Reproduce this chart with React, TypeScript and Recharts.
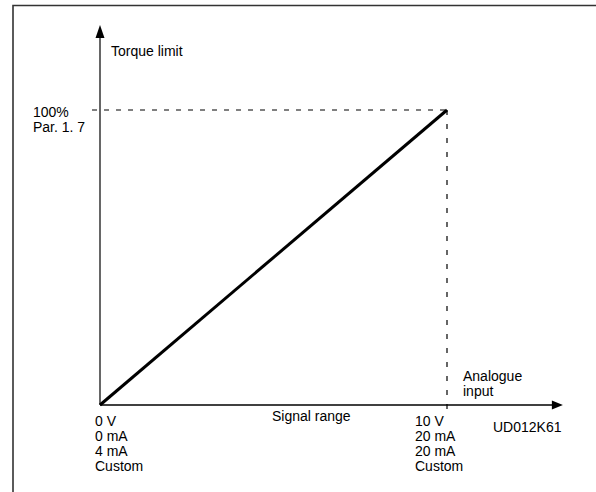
import {
  ComposedChart,
  Line,
  XAxis,
  YAxis,
  ReferenceLine,
  ReferenceDot,
  Customized,
} from "recharts";

// signal range (0..10) vs torque limit (% of Par. 1.7)
const signal = [0, 10];
const torque = [0, 100];
const xTickLabels = [
  ["0 V", "0 mA", "4 mA", "Custom"],
  ["10 V", "20 mA", "20 mA", "Custom"],
];
const yTickLabels = ["100%", "Par. 1. 7"];

const data = signal.map((s, i) => ({ signal: s, torque: torque[i] }));

const FONT = "'Liberation Sans', Arial, sans-serif";
const FS = 14;
const X_END = 13.05; // where the x axis shaft stops
const X_TIP = 13.34;
const Y_END = 124.4;
const Y_TIP = 128.8;

const XTick = (props: any) => {
  const { x, y, index } = props;
  const lines = xTickLabels[index] ?? [];
  const dx = index === 0 ? -5 : -32;
  return (
    <text x={x + dx} y={y + 13} fontFamily={FONT} fontSize={FS} fill="#000">
      {lines.map((l, i) => (
        <tspan key={i} x={x + dx} dy={i === 0 ? 0 : 15}>
          {l}
        </tspan>
      ))}
    </text>
  );
};

const YTick = (props: any) => {
  const { y } = props;
  return (
    <text x={33} y={y + 7} fontFamily={FONT} fontSize={FS} fill="#000">
      {yTickLabels.map((l, i) => (
        <tspan key={i} x={33} dy={i === 0 ? 0 : 15}>
          {l}
        </tspan>
      ))}
    </text>
  );
};

const UpArrow = (props: any) => {
  const { cx, cy } = props;
  return <path d={`M${cx},${cy} L${cx - 4.5},${cy + 13} L${cx + 4.5},${cy + 13} Z`} fill="#000" />;
};

const RightArrow = (props: any) => {
  const { cx, cy } = props;
  return <path d={`M${cx},${cy} L${cx - 11},${cy - 4.5} L${cx - 11},${cy + 4.5} Z`} fill="#000" />;
};

const Notes = () => (
  <g fontFamily={FONT} fontSize={FS} fill="#000">
    <text x={111} y={56}>Torque limit</text>
    <text x={272} y={421}>Signal range</text>
    <text x={463} y={381}>Analogue</text>
    <text x={463} y={396}>input</text>
    <text x={493} y={432}>UD012K61</text>
  </g>
);

export default function App() {
  return (
    <div style={{ position: "absolute", left: 0, top: 0, width: 596, height: 492, background: "#fff" }}>
      <svg width={596} height={492} style={{ position: "absolute", left: 0, top: 0 }}>
        <path d="M13,492 L13,5.5 L596,5.5" fill="none" stroke="#333" strokeWidth={1.6} />
      </svg>
      <div style={{ position: "absolute", left: 0, top: 0 }}>
        <ComposedChart
          width={596}
          height={492}
          data={data}
          margin={{ top: 110, right: 149, bottom: 27, left: 0 }}
        >
          <XAxis
            dataKey="signal"
            type="number"
            domain={[0, 10]}
            ticks={signal}
            axisLine={false}
            tickLine={false}
            height={60}
            tick={<XTick />}
          />
          <YAxis
            type="number"
            domain={[0, 100]}
            ticks={[100]}
            axisLine={false}
            tickLine={false}
            width={100}
            tick={<YTick />}
          />
          <ReferenceLine
            segment={[{ x: -0.23, y: 100 }, { x: 10, y: 100 }]}
            stroke="#000"
            strokeWidth={1.2}
            strokeDasharray="5 7"
            ifOverflow="visible"
          />
          <ReferenceLine
            segment={[{ x: 10, y: 100 }, { x: 10, y: -1.7 }]}
            stroke="#000"
            strokeWidth={1.2}
            strokeDasharray="5 9"
            ifOverflow="visible"
          />
          <ReferenceLine
            segment={[{ x: 0, y: 0 }, { x: 0, y: Y_END }]}
            stroke="#000"
            strokeWidth={1.2}
            ifOverflow="visible"
          />
          <ReferenceLine
            segment={[{ x: 0, y: 0 }, { x: X_END, y: 0 }]}
            stroke="#000"
            strokeWidth={1.4}
            ifOverflow="visible"
          />
          <ReferenceDot x={0} y={Y_TIP} ifOverflow="visible" shape={<UpArrow />} />
          <ReferenceDot x={X_TIP} y={0} ifOverflow="visible" shape={<RightArrow />} />
          <Line
            dataKey="torque"
            stroke="#000"
            strokeWidth={3}
            dot={false}
            isAnimationActive={false}
          />
          <Customized component={<Notes />} />
        </ComposedChart>
      </div>
    </div>
  );
}
